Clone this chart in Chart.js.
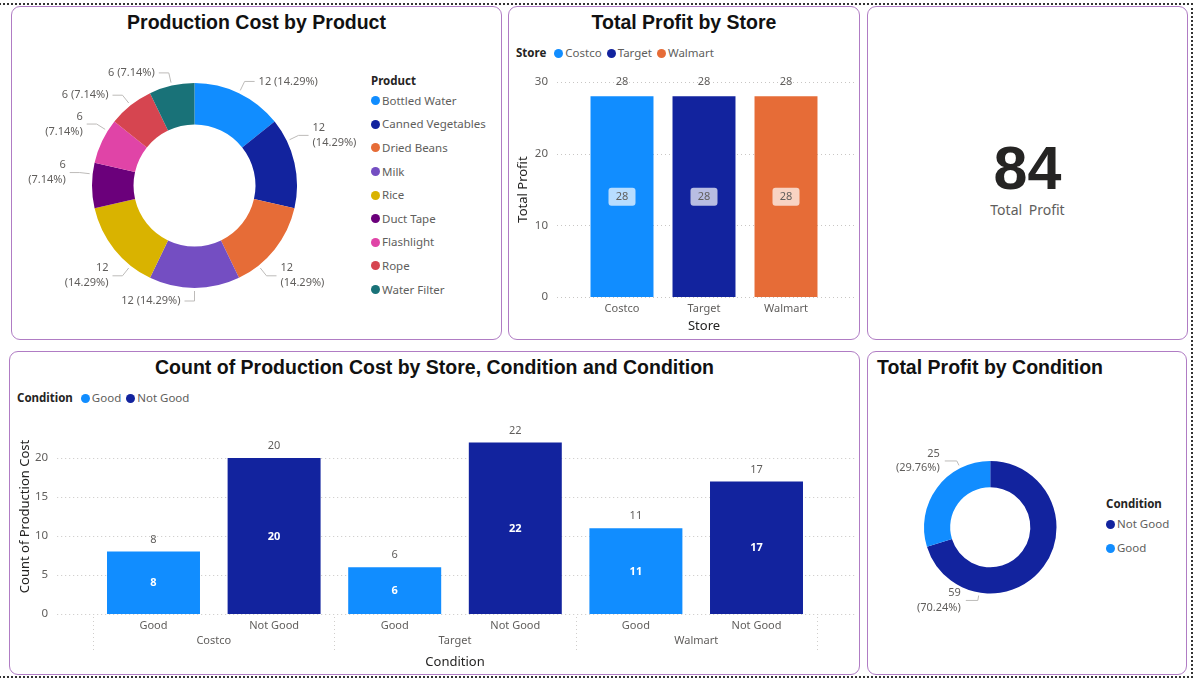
<!DOCTYPE html>
<html>
<head>
<meta charset="utf-8">
<script src="https://cdn.jsdelivr.net/npm/chart.js@4.4.1/dist/chart.umd.min.js"></script>
<style>
  html, body { margin: 0; padding: 0; background: #fff; }
  body { width: 1200px; height: 680px; position: relative; overflow: hidden;
         font-family: 'Segoe UI', 'Noto Sans', 'Open Sans', sans-serif; }
  .frame { position: absolute; left: -4px; top: 3px; width: 1197px; height: 675px;
           border: 2px dotted #333; box-sizing: border-box; }
  .panel { position: absolute; box-sizing: border-box; border: 1px solid #b07cc4;
           border-radius: 9px; background: #fff; }
  .title { position: absolute; font-family: 'Liberation Sans', Arial, sans-serif; font-weight: 700;
           font-size: 19.5px; line-height: 24px; color: #111; white-space: nowrap; }
  canvas { position: absolute; }
  .legend { position: absolute; font-size: 11.5px; color: #605E5C; white-space: nowrap; }
  .legend .lt { font-weight: 700; color: #252423; }
  .legend .dot { display: inline-block; width: 9px; height: 9px; border-radius: 50%;
                 margin-right: 2px; vertical-align: -1px; }
  .legend.row { display: flex; align-items: center; height: 16px; }
  .legend.row .lt { margin-right: 8px; }
  .legend.row .it { margin-right: 5px; }
  .legend.col .lt { height: 16px; line-height: 16px; }
  .legend.col .it { line-height: 16px; display: flex; align-items: center; }
  .card { position: absolute; text-align: center; white-space: nowrap; }
</style>
</head>
<body>
<div class="frame"></div>

<div class="panel" style="left:11px;top:6px;width:491px;height:334px"></div>
<div class="panel" style="left:508px;top:6px;width:352px;height:334px"></div>
<div class="panel" style="left:867px;top:6px;width:321px;height:334px"></div>
<div class="panel" style="left:9px;top:351px;width:851px;height:324px"></div>
<div class="panel" style="left:867px;top:351px;width:320px;height:324px"></div>

<div class="title" style="left:11px;width:491px;top:10px;text-align:center">Production Cost by Product</div>
<div class="title" style="left:508px;width:352px;top:10px;text-align:center">Total Profit by Store</div>
<div class="title" style="left:9px;width:851px;top:355px;text-align:center">Count of Production Cost by Store, Condition and Condition</div>
<div class="title" style="left:877px;top:355px">Total Profit by Condition</div>

<div id="legProduct" class="legend col" style="left:371px;top:73px"></div>
<div id="legStore" class="legend row" style="left:516px;top:44px"></div>
<div id="legCond" class="legend row" style="left:17px;top:389px"></div>
<div id="legCondPie" class="legend col" style="left:1106px;top:496px"></div>

<div id="cardValue" class="card" style="left:867px;width:321px;top:133px;height:70px;line-height:70px;
     font-family:'Liberation Sans',Arial,sans-serif;font-weight:700;font-size:61px;color:#252423"></div>
<div class="card" style="left:867px;width:321px;top:200px;line-height:20px;font-size:14px;color:#605E5C;word-spacing:3px">Total Profit</div>

<canvas id="productChart" width="500" height="300" style="left:0px;top:40px;width:500px;height:300px"></canvas>
<canvas id="storeChart" width="352" height="270" style="left:508px;top:70px;width:352px;height:270px"></canvas>
<canvas id="countChart" width="851" height="270" style="left:9px;top:405px;width:851px;height:270px"></canvas>
<canvas id="condChart" width="319" height="294" style="left:868px;top:380px;width:319px;height:294px"></canvas>

<script>
// ---- data ----
const products = ['Bottled Water', 'Canned Vegetables', 'Dried Beans', 'Milk', 'Rice',
                  'Duct Tape', 'Flashlight', 'Rope', 'Water Filter'];
const productCost = [12, 12, 12, 12, 12, 6, 6, 6, 6];

const stores = ['Costco', 'Target', 'Walmart'];
const storeProfit = [28, 28, 28];

const conditions = ['Good', 'Not Good'];
const goodCount = [8, 6, 11];
const notGoodCount = [20, 22, 17];

const conditionOrder = ['Not Good', 'Good'];
const conditionProfit = [59, 25];

// ---- look ----
const FONT = "'Segoe UI', 'Noto Sans', 'Open Sans', sans-serif";
const GREY = '#605E5C';
const DARK = '#252423';
const BLUE = '#118DFF', NAVY = '#12239E', ORANGE = '#E66C37';
const productColors = [BLUE, NAVY, ORANGE, '#744EC2', '#D9B300', '#6B007B', '#E044A7', '#D64550', '#197278'];
const storeColors = [BLUE, NAVY, ORANGE];
const condColors = { 'Good': BLUE, 'Not Good': NAVY };

Chart.defaults.font.family = FONT;
Chart.defaults.color = GREY;
Chart.defaults.animation = false;

// ---- html legends ----
function buildLegend(id, title, names, colors) {
    const el = document.getElementById(id);
    let html = `<div class="lt">${title}</div>`;
    names.forEach((n, i) => {
        html += `<div class="it"><span class="dot" style="background:${colors[i]}"></span>${n}</div>`;
    });
    el.innerHTML = html;
}
buildLegend('legProduct', 'Product', products, productColors);
buildLegend('legStore', 'Store', stores, storeColors);
buildLegend('legCond', 'Condition', conditions, conditions.map(c => condColors[c]));
buildLegend('legCondPie', 'Condition', conditionOrder, conditionOrder.map(c => condColors[c]));
document.querySelectorAll('#legProduct .it').forEach(e => e.style.height = '23.6px');
document.querySelectorAll('#legCondPie .it').forEach(e => e.style.height = '24px');

document.getElementById('cardValue').textContent = storeProfit.reduce((a, b) => a + b, 0);

// ---- plugins ----
// outside labels with leader lines (two lines when the slice sits on the side)
const donutLabels = {
    id: 'donutLabels',
    afterDatasetsDraw(chart, args, opts) {
        const ctx = chart.ctx;
        const values = chart.data.datasets[0].data;
        const total = values.reduce((a, b) => a + b, 0);
        const TWO_PI = Math.PI * 2;
        const fromTop = a => ((a + Math.PI / 2) % TWO_PI + TWO_PI) % TWO_PI;
        const poleDist = a => Math.min(a, Math.abs(Math.PI - a), TWO_PI - a);
        ctx.save();
        ctx.font = `${opts.size}px ${FONT}`;
        ctx.textBaseline = 'middle';
        chart.getDatasetMeta(0).data.forEach((arc, i) => {
            const p = arc.getProps(['x', 'y', 'startAngle', 'endAngle', 'outerRadius'], true);
            const mid = (p.startAngle + p.endAngle) / 2;
            const wrap = poleDist(fromTop(mid)) > Math.PI / 4;
            let ang = mid;
            if (wrap) {
                const a1 = p.startAngle + 0.25 * (p.endAngle - p.startAngle);
                const a2 = p.startAngle + 0.75 * (p.endAngle - p.startAngle);
                ang = poleDist(fromTop(a1)) < poleDist(fromTop(a2)) ? a1 : a2;
            }
            const c = Math.cos(ang), s = Math.sin(ang);
            const x0 = p.x + c * (p.outerRadius + 3), y0 = p.y + s * (p.outerRadius + 3);
            const x1 = p.x + c * (p.outerRadius + opts.elbow), y1 = p.y + s * (p.outerRadius + opts.elbow);
            const dir = c > 1e-6 ? 1 : -1;
            const x2 = x1 + dir * opts.arm;

            ctx.strokeStyle = opts.lineColor;
            ctx.lineWidth = 1;
            ctx.beginPath();
            ctx.moveTo(x0, y0);
            ctx.lineTo(x1, y1);
            ctx.lineTo(x2, y1);
            ctx.stroke();

            const v = values[i];
            const pct = (v / total * 100).toFixed(2) + '%';
            ctx.fillStyle = opts.color;
            ctx.textAlign = dir > 0 ? 'left' : 'right';
            const tx = x2 + dir * opts.gap;
            if (wrap) {
                ctx.fillText(String(v), tx, y1 - opts.lh / 2);
                ctx.fillText(`(${pct})`, tx, y1 + opts.lh / 2);
            } else {
                ctx.fillText(`${v} (${pct})`, tx, y1);
            }
        });
        ctx.restore();
    }
};

// dotted value grid running a bit past the plot
const dottedGrid = {
    id: 'dottedGrid',
    beforeDatasetsDraw(chart, args, opts) {
        const ys = chart.scales.y, area = chart.chartArea, ctx = chart.ctx;
        ctx.save();
        ctx.strokeStyle = '#c8c6c4';
        ctx.lineWidth = 1;
        ctx.setLineDash([1, 3]);
        ys.ticks.forEach(t => {
            const py = Math.round(ys.getPixelForValue(t.value)) + 0.5;
            ctx.beginPath();
            ctx.moveTo(area.left - opts.left, py);
            ctx.lineTo(area.right + opts.right, py);
            ctx.stroke();
        });
        ctx.restore();
    }
};

// value above each bar + value in the middle
const barLabels = {
    id: 'barLabels',
    afterDatasetsDraw(chart, args, opts) {
        const ctx = chart.ctx;
        ctx.save();
        ctx.textAlign = 'center';
        ctx.textBaseline = 'middle';
        chart.data.datasets.forEach((ds, di) => {
            chart.getDatasetMeta(di).data.forEach((bar, i) => {
                const v = ds.data[i];
                if (v == null) return;
                const p = bar.getProps(['x', 'y', 'base'], true);
                ctx.font = `11px ${FONT}`;
                ctx.fillStyle = GREY;
                ctx.fillText(String(v), p.x, p.y - opts.topGap);
                const cy = (p.y + p.base) / 2;
                if (opts.boxed) {
                    ctx.fillStyle = 'rgba(255,255,255,0.7)';
                    ctx.beginPath();
                    ctx.roundRect(p.x - 13.5, cy - 9, 27, 18, 3);
                    ctx.fill();
                    ctx.fillStyle = GREY;
                    ctx.font = `11px ${FONT}`;
                } else {
                    ctx.fillStyle = '#fff';
                    ctx.font = `bold 11px ${FONT}`;
                }
                ctx.fillText(String(v), p.x, cy + 0.5);
            });
        });
        ctx.restore();
    }
};

// store names under the condition labels, with dotted separators
const storeGroups = {
    id: 'storeGroups',
    afterDraw(chart) {
        const xs = chart.scales.x, area = chart.chartArea, ctx = chart.ctx;
        const n = conditions.length;
        const step = xs.getPixelForTick(1) - xs.getPixelForTick(0);
        ctx.save();
        ctx.strokeStyle = '#d0cecc';
        ctx.lineWidth = 1;
        ctx.setLineDash([1, 3]);
        for (let s = 0; s <= stores.length; s++) {
            const px = Math.round(xs.getPixelForTick(Math.min(s * n, xs.ticks.length - 1)) +
                (s * n >= xs.ticks.length ? step / 2 : -step / 2)) + 0.5;
            ctx.beginPath();
            ctx.moveTo(px, area.bottom + 3);
            ctx.lineTo(px, area.bottom + 36);
            ctx.stroke();
        }
        ctx.font = `11px ${FONT}`;
        ctx.fillStyle = GREY;
        ctx.textAlign = 'center';
        ctx.textBaseline = 'middle';
        stores.forEach((name, s) => {
            const cx = (xs.getPixelForTick(s * n) + xs.getPixelForTick(s * n + n - 1)) / 2;
            ctx.fillText(name, cx, area.bottom + 27);
        });
        ctx.restore();
    }
};

function axisTitle(text, pad) {
    return { display: true, text: text, color: DARK, font: { size: 13 }, padding: pad };
}

// fixed axis size; tick padding must not grow the top/bottom layout padding
function fixWidth(w) {
    return s => { s.width = w; s.paddingTop = 0; s.paddingBottom = 0; };
}

// ---- Production Cost by Product ----
new Chart(document.getElementById('productChart'), {
    type: 'doughnut',
    data: {
        labels: products,
        datasets: [{ data: productCost, backgroundColor: productColors, borderWidth: 0 }]
    },
    options: {
        responsive: false,
        cutout: '59.5%',
        layout: { padding: { left: 92, top: 43, right: 203, bottom: 52 }, autoPadding: false },
        plugins: {
            legend: { display: false },
            tooltip: { enabled: false },
            donutLabels: { elbow: 13, arm: 10, gap: 4, size: 11, lh: 15, color: GREY, lineColor: '#bdbbb9' }
        }
    },
    plugins: [donutLabels]
});

// ---- Total Profit by Store ----
new Chart(document.getElementById('storeChart'), {
    type: 'bar',
    data: {
        labels: stores,
        datasets: [{ data: storeProfit, backgroundColor: storeColors,
                     barPercentage: 0.768, categoryPercentage: 1 }]
    },
    options: {
        responsive: false,
        layout: { padding: { left: 0, top: 12, right: 33, bottom: 0 }, autoPadding: false },
        scales: {
            x: {
                grid: { display: false, drawTicks: false }, border: { display: false },
                ticks: { padding: 5, font: { size: 11 }, color: GREY },
                title: axisTitle('Store', { top: 0, bottom: 6 }),
                afterFit(s) { s.height = 43; }
            },
            y: {
                min: 0, max: 30,
                grid: { display: false, drawTicks: false }, border: { display: false },
                ticks: { stepSize: 10, padding: 33, font: { size: 11.5 }, color: GREY },
                title: axisTitle('Total Profit', { top: 7, bottom: 0 }),
                afterFit: fixWidth(73)
            }
        },
        plugins: {
            legend: { display: false },
            tooltip: { enabled: false },
            dottedGrid: { left: 24, right: 28 },
            barLabels: { topGap: 14, boxed: true }
        }
    },
    plugins: [dottedGrid, barLabels]
});

// ---- Count of Production Cost by Store, Condition ----
const flatLabels = stores.flatMap(() => conditions);
new Chart(document.getElementById('countChart'), {
    type: 'bar',
    data: {
        labels: flatLabels,
        datasets: [
            { label: 'Good', data: goodCount.flatMap(v => [v, null]), backgroundColor: condColors['Good'] },
            { label: 'Not Good', data: notGoodCount.flatMap(v => [null, v]), backgroundColor: condColors['Not Good'] }
        ]
    },
    options: {
        responsive: false,
        skipNull: true,
        datasets: { bar: { barPercentage: 0.771, categoryPercentage: 1 } },
        layout: { padding: { left: 0, top: 14, right: 43.2, bottom: 0 }, autoPadding: false },
        scales: {
            x: {
                grid: { display: false, drawTicks: false }, border: { display: false },
                ticks: { padding: 5, font: { size: 11 }, color: GREY, autoSkip: false, maxRotation: 0 },
                title: axisTitle('Condition', { top: 0, bottom: 5 }),
                afterFit(s) { s.height = 61; }
            },
            y: {
                min: 0, max: 25,
                grid: { display: false, drawTicks: false }, border: { display: false },
                ticks: { stepSize: 5, padding: 45, font: { size: 11.5 }, color: GREY },
                afterBuildTicks(s) { s.ticks = s.ticks.filter(t => t.value < s.max); },
                title: axisTitle('Count of Production Cost', { top: 8, bottom: 0 }),
                afterFit: fixWidth(84.2)
            }
        },
        plugins: {
            legend: { display: false },
            tooltip: { enabled: false },
            dottedGrid: { left: 36, right: 38 },
            barLabels: { topGap: 12, boxed: false }
        }
    },
    plugins: [dottedGrid, barLabels, storeGroups]
});

// ---- Total Profit by Condition ----
new Chart(document.getElementById('condChart'), {
    type: 'doughnut',
    data: {
        labels: conditionOrder,
        datasets: [{ data: conditionProfit, backgroundColor: conditionOrder.map(c => condColors[c]), borderWidth: 0 }]
    },
    options: {
        responsive: false,
        cutout: '60.5%',
        layout: { padding: { left: 56, top: 81, right: 130.5, bottom: 80.5 }, autoPadding: false },
        plugins: {
            legend: { display: false },
            tooltip: { enabled: false },
            donutLabels: { elbow: 8, arm: 12, gap: 5, size: 11, lh: 14.5, color: GREY, lineColor: '#bdbbb9' }
        }
    },
    plugins: [donutLabels]
});
</script>
</body>
</html>
